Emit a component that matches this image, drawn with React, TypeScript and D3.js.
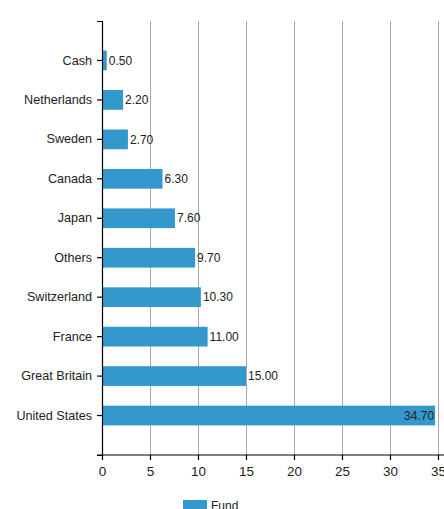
import React, { useEffect, useRef } from "react";
import * as d3 from "d3";

const categories = ["Cash", "Netherlands", "Sweden", "Canada", "Japan", "Others", "Switzerland", "France", "Great Britain", "United States"];
const values = [0.5, 2.2, 2.7, 6.3, 7.6, 9.7, 10.3, 11.0, 15.0, 34.7];
const xTicks = [0, 5, 10, 15, 20, 25, 30, 35];
const seriesName = "Fund";

const W = 444;
const H = 509;
const M = { left: 102, right: 6, top: 21, bottom: 54 };
const BAR = "#3399cc";

export default function App() {
  const ref = useRef<SVGSVGElement>(null);
  useEffect(() => {
    const svg = d3.select(ref.current);
    svg.selectAll("*").remove();
    const x = d3.scaleLinear().domain([0, 35]).range([M.left, W - M.right]);
    const y = d3.scaleBand<string>().domain(categories).range([M.top, H - M.bottom]).paddingInner(0.5).paddingOuter(0.75);
    const font = "Liberation Sans, Arial, sans-serif";

    // gridlines
    svg.append("g").selectAll("line").data(xTicks.slice(1)).join("line")
      .attr("x1", d => x(d)).attr("x2", d => x(d))
      .attr("y1", M.top).attr("y2", H - M.bottom)
      .attr("stroke", "#aaa").attr("stroke-width", 1).attr("shape-rendering", "crispEdges");

    // bars
    svg.append("g").selectAll("rect").data(categories).join("rect")
      .attr("x", x(0))
      .attr("y", d => y(d)!)
      .attr("width", (_d, i) => x(values[i]) - x(0))
      .attr("height", y.bandwidth())
      .attr("fill", BAR);

    // value labels
    svg.append("g").selectAll("text").data(categories).join("text")
      .attr("x", (_d, i) => values[i] > 30 ? x(values[i]) - 1 : x(values[i]) + 2)
      .attr("y", d => y(d)! + y.bandwidth() / 2)
      .attr("dy", "0.35em")
      .attr("text-anchor", (_d, i) => values[i] > 30 ? "end" : "start")
      .attr("font-family", font).attr("font-size", 12).attr("fill", "#222")
      .text((_d, i) => values[i].toFixed(2));

    // y axis
    const ya = svg.append("g").attr("transform", `translate(${M.left},0)`)
      .call(d3.axisLeft(y).tickSize(5).tickSizeOuter(5).tickPadding(5));
    ya.selectAll("text").attr("font-family", font).attr("font-size", 12.6).attr("fill", "#222");
    ya.selectAll("path,line").attr("stroke", "#000").attr("stroke-width", 1.2);

    // x axis
    const xa = svg.append("g").attr("transform", `translate(0,${H - M.bottom})`)
      .call(d3.axisBottom(x).tickValues(xTicks).tickSize(5).tickSizeOuter(0).tickPadding(6));
    xa.selectAll("text").attr("font-family", font).attr("font-size", 13.5).attr("fill", "#222");
    xa.selectAll("path,line").attr("stroke", "#000").attr("stroke-width", 1.2);
    xa.select("path").attr("d", `M${M.left - 5},0H${W}`);

    // legend
    const lg = svg.append("g").attr("transform", `translate(183,500)`);
    lg.append("rect").attr("width", 24).attr("height", 10).attr("fill", BAR);
    lg.append("text").attr("x", 28).attr("y", 10).attr("font-family", font).attr("font-size", 12).attr("fill", "#222").text(seriesName);
  }, []);
  return (
    <svg ref={ref} width={W} height={H} style={{ position: "absolute", left: 0, top: 0, background: "#fff" }} />
  );
}
